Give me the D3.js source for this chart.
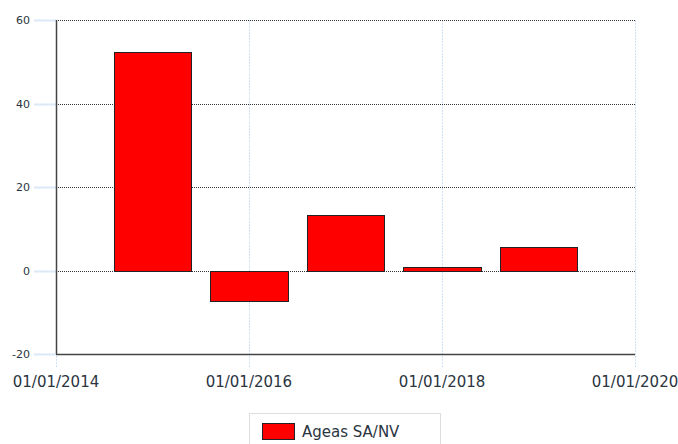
<!DOCTYPE html>
<html><head><meta charset="utf-8">
<script src="https://cdn.jsdelivr.net/npm/d3@7"></script>
<style>body{margin:0;background:#fff}svg{display:block}</style>
</head><body>
<svg id="c" width="678" height="444"></svg>
<script>
const dates = ["2015-01-01","2016-01-01","2017-01-01","2018-01-01","2019-01-01"];
const values = [52.4, -7.4, 13.2, 0.8, 5.7];
const seriesName = "Ageas SA/NV";
const yTicks = [-20, 0, 20, 40, 60];
const xTickLabels = ["01/01/2014","01/01/2016","01/01/2018","01/01/2020"];

const parse = d3.timeParse("%Y-%m-%d");
const parseLbl = d3.timeParse("%d/%m/%Y");
const fmt = d3.timeFormat("%d/%m/%Y");
const svg = d3.select("#c");
const L = 56, R = 635, T = 20, B = 354;
const x = d3.scaleTime().domain([parseLbl("01/01/2014"), parseLbl("01/01/2020")]).range([L, R]);
const y = d3.scaleLinear().domain([-20, 60]).range([B, T]);
const font = "'DejaVu Sans', Verdana, sans-serif";
const txtCol = "#2a3540";

// vertical light-blue gridlines
const xt = xTickLabels.map(parseLbl);
svg.append("g").selectAll("line").data(xt).join("line")
  .attr("x1", d => Math.round(x(d)) + 0.5).attr("x2", d => Math.round(x(d)) + 0.5)
  .attr("y1", T).attr("y2", B + 14)
  .attr("stroke", "#cfe0f3").attr("stroke-dasharray", "2,1");

// horizontal gridlines
svg.append("g").selectAll("line").data(yTicks.filter(v => v > -20)).join("line")
  .attr("x1", L).attr("x2", R)
  .attr("y1", d => Math.round(y(d)) + 0.5).attr("y2", d => Math.round(y(d)) + 0.5)
  .attr("stroke", "#333").attr("stroke-dasharray", "1,1");

// y tick marks (light blue)
svg.append("g").selectAll("line").data(yTicks).join("line")
  .attr("x1", L - 22).attr("x2", L)
  .attr("y1", d => Math.round(y(d)) + 0.5).attr("y2", d => Math.round(y(d)) + 0.5)
  .attr("stroke", "#dbe8f6").attr("stroke-width", 2);

// bars
const halfW = 0.4 * 365.25 * 864e5;
svg.append("g").selectAll("rect").data(dates.map((d, i) => ({d: parse(d), v: values[i]}))).join("rect")
  .attr("x", d => Math.round(x(new Date(+d.d - halfW))) + 0.5)
  .attr("width", d => Math.round(x(new Date(+d.d + halfW))) - Math.round(x(new Date(+d.d - halfW))))
  .attr("y", d => Math.round(y(Math.max(0, d.v))) + 0.5)
  .attr("height", d => Math.abs(Math.round(y(0)) - Math.round(y(d.v))))
  .attr("fill", "#ff0000").attr("stroke", "#222").attr("stroke-width", 1);

// axes lines
svg.append("line").attr("x1", L + 0.5).attr("x2", L + 0.5).attr("y1", T).attr("y2", B)
  .attr("stroke", "#444").attr("stroke-width", 1.5);
svg.append("line").attr("x1", L).attr("x2", R).attr("y1", B + 0.5).attr("y2", B + 0.5)
  .attr("stroke", "#444").attr("stroke-width", 1.5);

// y labels
svg.append("g").selectAll("text").data(yTicks).join("text")
  .attr("x", 30).attr("y", d => y(d) + 4)
  .attr("text-anchor", "end").attr("font-family", font).attr("font-size", 11)
  .attr("fill", txtCol).text(d => d);

// x labels
svg.append("g").selectAll("text").data(xt).join("text")
  .attr("x", d => x(d)).attr("y", 387)
  .attr("text-anchor", "middle").attr("font-family", font).attr("font-size", 15)
  .attr("fill", txtCol).text(d => fmt(d));

// legend
const lg = svg.append("g");
lg.append("rect").attr("x", 249.5).attr("y", 413.5).attr("width", 191).attr("height", 40)
  .attr("fill", "#fff").attr("stroke", "#ddd");
lg.append("rect").attr("x", 262.5).attr("y", 423.5).attr("width", 32).attr("height", 16)
  .attr("fill", "#ff0000").attr("stroke", "#222");
lg.append("text").attr("x", 302).attr("y", 437).attr("font-family", font).attr("font-size", 15)
  .attr("fill", txtCol).text(seriesName);
</script>
</body></html>
